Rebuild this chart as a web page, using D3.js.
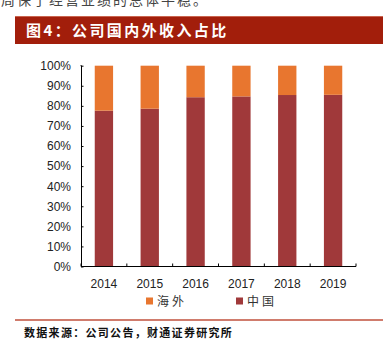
<!DOCTYPE html>
<html><head><meta charset="utf-8">
<script src="https://cdn.jsdelivr.net/npm/d3@7/dist/d3.min.js"></script>
<style>body{margin:0;background:#fff;}svg{display:block;}</style>
</head><body>
<script>
const years = ["2014","2015","2016","2017","2018","2019"];
const domestic = [77.6, 78.6, 84.3, 84.7, 85.4, 85.5];
const overseas = domestic.map(v => 100 - v);
const yTicks = [0,10,20,30,40,50,60,70,80,90,100];
const seriesNames = ["海外", "中国"];
const colors = {"海外": "#E8762F", "中国": "#A0393A"};

const W = 386, H = 350;
const svg = d3.select("body").append("svg").attr("width", W).attr("height", H);
const cjk = "'Noto Sans CJK SC', sans-serif";

// top paragraph text (cut off at the top edge, as in the reference)
svg.append("text").attr("x", 1).attr("y", 5).attr("font-family", cjk).attr("font-size", 14)
  .attr("letter-spacing", 2).attr("fill", "#444").text("周保了经营业绩的总体平稳。");

// banner
svg.append("rect").attr("x", 15).attr("y", 16).attr("width", 368).attr("height", 28).attr("fill", "#A21E0B");
svg.append("line").attr("x1", 15).attr("x2", 383).attr("y1", 16.5).attr("y2", 16.5).attr("stroke", "#C9644F").attr("stroke-width", 1);
svg.append("text").attr("x", 26).attr("y", 35.5).attr("font-family", cjk).attr("font-weight", "bold")
  .attr("font-size", 15).attr("letter-spacing", 2.4).attr("fill", "#fff").text("图4：公司国内外收入占比");

// scales
const x = d3.scaleBand().domain(years).range([81, 356]).paddingInner(0.6).paddingOuter(0.3);
const y = d3.scaleLinear().domain([0, 100]).range([266.5, 65.7]);

const stack = d3.stack().keys(["中国", "海外"]);
const rows = years.map((yr, i) => ({year: yr, "中国": domestic[i], "海外": overseas[i]}));
const layers = stack(rows);

svg.append("g").selectAll("g").data(layers).join("g")
  .attr("fill", d => colors[d.key])
  .selectAll("rect").data(d => d).join("rect")
  .attr("x", d => x(d.data.year))
  .attr("width", x.bandwidth())
  .attr("y", d => y(d[1]))
  .attr("height", d => y(d[0]) - y(d[1]));

// y axis
const yAxis = d3.axisLeft(y).tickValues(yTicks).tickFormat(d => d + "%").tickSize(-2.5).tickPadding(10);
const gy = svg.append("g").attr("transform", "translate(81,0)").call(yAxis);
gy.select(".domain").attr("stroke", "#000").attr("d", `M-0.5,${y(100)}H0.5V${y(0)}`);
gy.selectAll(".tick line").attr("stroke", "#000");
gy.selectAll("text").attr("font-family", "'Liberation Sans', Arial, sans-serif").attr("font-size", 12).attr("fill", "#222");

// x axis
const gx = svg.append("g").attr("transform", `translate(0,${y(0)})`);
gx.append("line").attr("x1", 81).attr("x2", 356).attr("stroke", "#000");
const bounds = d3.range(years.length + 1).map(i => 81 + i * (275 / years.length));
gx.selectAll("line.t").data(bounds).join("line").attr("class", "t")
  .attr("x1", d => d).attr("x2", d => d).attr("y1", 0).attr("y2", -3).attr("stroke", "#000");
gx.selectAll("text").data(years).join("text")
  .attr("x", d => x(d) + x.bandwidth() / 2).attr("y", 21)
  .attr("text-anchor", "middle").attr("font-family", "'Liberation Sans', Arial, sans-serif")
  .attr("font-size", 12).attr("fill", "#222").text(d => d);

// legend
const legendX = [146, 236];
const lg = svg.append("g").selectAll("g").data(seriesNames).join("g")
  .attr("transform", (d, i) => `translate(${legendX[i]},301)`);
lg.append("rect").attr("x", 0).attr("y", -3.5).attr("width", 7).attr("height", 7).attr("fill", d => colors[d]);
lg.append("text").attr("x", 11).attr("y", 4.5).attr("font-family", cjk).attr("font-size", 12)
  .attr("letter-spacing", 3).attr("fill", "#333").text(d => d);

// bottom line + source
svg.append("line").attr("x1", 15).attr("x2", 383).attr("y1", 320).attr("y2", 320).attr("stroke", "#C0503C").attr("stroke-width", 1.5);
svg.append("text").attr("x", 24).attr("y", 337).attr("font-family", cjk).attr("font-weight", "bold")
  .attr("font-size", 11).attr("letter-spacing", 1.3).attr("fill", "#111").text("数据来源：公司公告，财通证券研究所");
</script>
</body></html>
